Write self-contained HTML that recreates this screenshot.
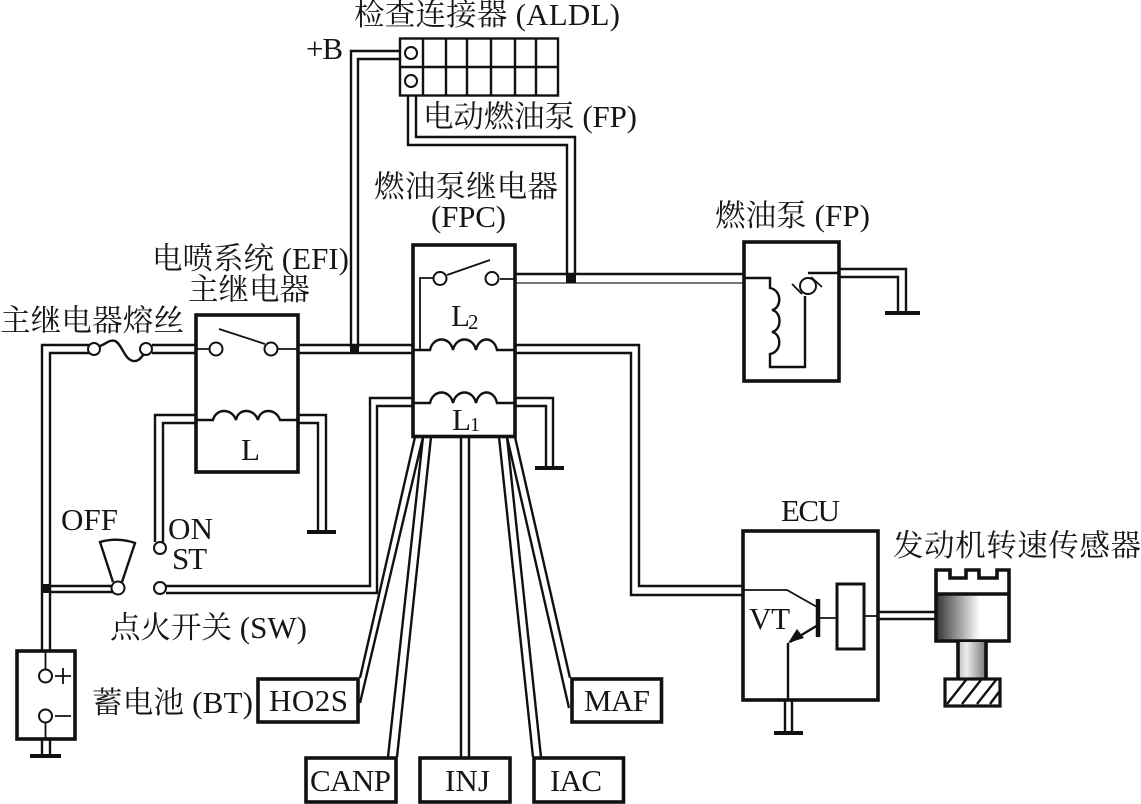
<!DOCTYPE html>
<html><head><meta charset="utf-8">
<style>
html,body{margin:0;padding:0;background:#fff;width:1141px;height:804px;overflow:hidden}
svg{display:block}
text{fill:#161616;font-family:"Liberation Serif","Noto Serif CJK SC",serif;font-size:31px}
tspan.z{font-size:30.5px}
.w{fill:none;stroke:#111;stroke-width:2.4}
.t{fill:none;stroke:#111;stroke-width:1.8}
.b{fill:#fff;stroke:#111;stroke-width:3.6}
.g{fill:none;stroke:#111;stroke-width:4}
.c{fill:#fff;stroke:#111;stroke-width:2}
</style></head><body>
<svg width="1141" height="804" viewBox="0 0 1141 804" xmlns="http://www.w3.org/2000/svg">
<defs>
<linearGradient id="g1" x1="0" x2="1" y1="0" y2="0"><stop offset="0" stop-color="#333"/><stop offset=".6" stop-color="#fff"/><stop offset="1" stop-color="#fff"/></linearGradient>
<linearGradient id="g2" x1="0" x2="1" y1="0" y2="0"><stop offset="0" stop-color="#bbb"/><stop offset=".3" stop-color="#eee"/><stop offset="1" stop-color="#777"/></linearGradient>
</defs>

<!-- ALDL connector -->
<rect x="400" y="38.5" width="158" height="57" fill="#fff" stroke="#111" stroke-width="2.4"/>
<path class="w" d="M400 67H558M423 38V96M446 38V96M467 38V96M491 38V96M515 38V96M536 38V96"/>
<circle class="c" cx="411" cy="53" r="6"/><circle class="c" cx="411" cy="81" r="6"/>
<path class="w" d="M400 51H351V348M400 59H358V348"/>
<path class="w" d="M408 96V145H567V275M416 96V137H575V275"/>

<!-- main wires -->
<path class="w" d="M515 274H744"/>
<path d="M515 283H744" fill="none" stroke="#666" stroke-width="1.8"/>
<rect x="566" y="274" width="10" height="9" fill="#111"/>
<path class="w" d="M42 650V345H90M50 650V353H90"/>
<path class="w" d="M152 345H196M152 353H196"/>
<path class="w" d="M298 345H413M298 353H413"/>
<rect x="350" y="345" width="9" height="8" fill="#111"/>
<path class="w" d="M515 345H639V586H743M515 353H631V595H743"/>
<path class="w" d="M413 398H370V586H166M413 406H377V593H166"/>
<path class="w" d="M515 398H553V466M515 406H546V466"/>
<path class="g" d="M535 468H564"/>
<path class="w" d="M196 415H155V542M196 423H163V542"/>
<path class="w" d="M298 415H326V532M298 423H318V532"/>
<path class="g" d="M307 532H336"/>

<!-- fuse -->
<path class="w" d="M100 346C106 344 110 339 115 341C122 344 124 359 133 361C139 362 142 356 144 354"/>
<circle class="c" cx="94" cy="349" r="6"/><circle class="c" cx="146" cy="349" r="6"/>

<!-- EFI relay -->
<rect class="b" x="196" y="315" width="102" height="157"/>
<path class="t" d="M196 349H211M277 349H298M219 329L265 344"/>
<circle class="c" cx="216" cy="349" r="6.5"/><circle class="c" cx="271" cy="349" r="6.5"/>
<path class="w" d="M196 420H213C216 408 232 408 236 420C238 408 254 408 258 420C260 408 276 408 280 420H298"/>

<!-- FPC relay -->
<rect class="b" x="413" y="245" width="102" height="191.500"/>
<path class="t" d="M447 275L490 260M500 279H515M434 278H420V350"/>
<circle class="c" cx="440" cy="278.500" r="6.500"/><circle class="c" cx="492" cy="278.500" r="6.500"/>
<path class="w" d="M413 350H430C433 336 450 336 453 350C456 336 473 336 476 350C479 336 494 336 497 350H515"/>
<path class="w" d="M413 403H430C433 389 450 389 453 403C456 389 473 389 476 403C479 389 494 389 497 403H515"/>

<!-- bundle wires -->
<path class="w" d="M415 437L360 678M423 437L360 703"/>
<path class="w" d="M423 437L388 757M431 437L397 757"/>
<path class="w" d="M461 437V757M469 437V757"/>
<path class="w" d="M499 437L533 757M507 437L541 757"/>
<path class="w" d="M507 437L569 708M515 437L570 678"/>

<!-- fuel pump -->
<rect class="b" x="744" y="242" width="95" height="139"/>
<path class="w" d="M744 278H770V288C782 290 782 308 772 310C782 312 782 330 772 332C782 334 782 352 770 354V367H805V296"/>
<circle class="c" cx="808" cy="286" r="8"/>
<path class="t" d="M792 284L802 294M811 277L822 287"/>
<path class="w" d="M808 273H839"/>
<path class="w" d="M839 269H906V313M839 277H898V313"/>
<path class="g" d="M885 313H920"/>

<!-- ignition switch -->
<path class="w" d="M50 586H115M50 592H115"/>
<rect x="41" y="584" width="10" height="9" fill="#111"/>
<path class="w" d="M113 582L100 542Q118 537 135 543L122 582"/>
<circle class="c" cx="118" cy="588" r="6.500"/>
<circle class="c" cx="160" cy="548" r="6"/>
<circle class="c" cx="160" cy="588" r="6"/>

<!-- battery -->
<rect class="b" x="17" y="651" width="58" height="88"/>
<path class="t" d="M45.500 651V669M45.500 722V739M55 676H71M63 668V684M55 716H71"/>
<circle class="c" cx="45.500" cy="676" r="6.500"/><circle class="c" cx="45.500" cy="716" r="6.500"/>
<path class="w" d="M42 739V755M50 739V755"/>
<path class="g" d="M30 756H61"/>

<!-- boxes -->
<rect class="b" x="258" y="679" width="100" height="43"/>
<rect class="b" x="306" y="758" width="90" height="44"/>
<rect class="b" x="420" y="758" width="90" height="44"/>
<rect class="b" x="534" y="758" width="89.500" height="44"/>
<rect class="b" x="572" y="679" width="89.500" height="43"/>

<!-- ECU -->
<rect class="b" x="743" y="531" width="135" height="169"/>
<path class="t" d="M743 590H787L817 607M818 618H836M864 616H878"/>
<path d="M818 599V637" fill="none" stroke="#111" stroke-width="4.500"/>
<rect x="837" y="584" width="27" height="65" fill="#fff" stroke="#111" stroke-width="3"/>
<path class="w" d="M818 625L790 642M788 643V700"/>
<path d="M788 643L797 629L804 638Z" fill="#111"/>
<path class="w" d="M785 700V733M792 700V733"/>
<path class="g" d="M774 733H803"/>
<path class="w" d="M878 612H935M878 619H935"/>

<!-- sensor -->
<rect x="936" y="594" width="73" height="46" fill="url(#g1)"/>
<path d="M936 641V570H950V578H966V570H979V578H997V570H1009V641Z M936 594H1009" fill="none" stroke="#111" stroke-width="3.600"/>
<rect x="958" y="642" width="28" height="37" fill="url(#g2)"/>
<path d="M958 641V679M986 641V679" fill="none" stroke="#111" stroke-width="3.600"/>
<rect x="945" y="679" width="55" height="27" fill="#fff" stroke="#111" stroke-width="3.200"/>
<path class="w" d="M947 704L966 680M962 704L981 680M977 704L996 680M990 704L999 692"/>

<!-- labels -->
<text x="354" y="25" textLength="266"><tspan class="z">检查连接器</tspan> (ALDL)</text>
<text x="306" y="59" textLength="37">+B</text>
<text x="423" y="127" textLength="214"><tspan class="z">电动燃油泵</tspan> (FP)</text>
<text x="374" y="197" textLength="184"><tspan class="z">燃油泵继电器</tspan></text>
<text x="431" y="227" textLength="75">(FPC)</text>
<text x="152" y="269" textLength="197"><tspan class="z">电喷系统</tspan> (EFI)</text>
<text x="188" y="300" textLength="122"><tspan class="z">主继电器</tspan></text>
<text x="0" y="331" textLength="184"><tspan class="z">主继电器熔丝</tspan></text>
<text x="241" y="460">L</text>
<text x="451" y="326">L</text>
<text x="468" y="329" style="font-size:21px">2</text>
<text x="452" y="430">L</text>
<text x="470" y="431" style="font-size:20px">1</text>
<text x="715" y="226" textLength="155"><tspan class="z">燃油泵</tspan> (FP)</text>
<text x="781" y="521" textLength="59">ECU</text>
<text x="749" y="629" textLength="41">VT</text>
<text x="893" y="556" textLength="248"><tspan class="z">发动机转速传感器</tspan></text>
<text x="61" y="530" textLength="57">OFF</text>
<text x="168" y="539" textLength="45">ON</text>
<text x="172" y="569" textLength="35">ST</text>
<text x="110" y="638" textLength="197"><tspan class="z">点火开关</tspan> (SW)</text>
<text x="92" y="713" textLength="161"><tspan class="z">蓄电池</tspan> (BT)</text>
<text x="269" y="711" textLength="79">HO2S</text>
<text x="310" y="791" textLength="81">CANP</text>
<text x="445" y="791" textLength="45">INJ</text>
<text x="550" y="791" textLength="52">IAC</text>
<text x="584" y="711" textLength="66">MAF</text>
</svg>
</body></html>
